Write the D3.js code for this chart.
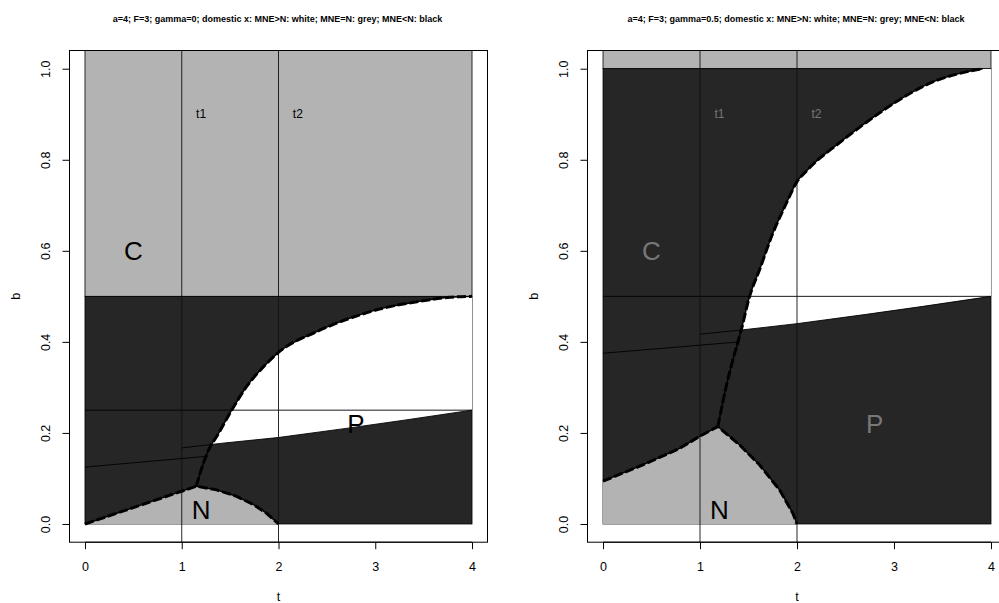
<!DOCTYPE html>
<html>
<head>
<meta charset="utf-8">
<script src="https://cdn.jsdelivr.net/npm/d3@7"></script>
<style>
  body { margin: 0; background: #fff; }
  svg text { font-family: "Liberation Sans", Arial, Helvetica, sans-serif; }
</style>
</head>
<body>
<svg id="chart" width="999" height="603"></svg>
<script>
// ---- data ----
var ticksX = [0, 1, 2, 3, 4];
var ticksY = [0, 0.2, 0.4, 0.6, 0.8, 1.0];
var titles = [
    "a=4; F=3; gamma=0; domestic x: MNE>N: white; MNE=N: grey; MNE<N: black",
    "a=4; F=3; gamma=0.5; domestic x: MNE>N: white; MNE=N: grey; MNE<N: black"
];
var markT = [1, 2];                 // t1, t2
var markLabels = ["t1", "t2"];
var regionLabels = ["C", "N", "P"];
var regionPos = [[0.5, 0.6], [1.2, 0.03], [2.8, 0.22]];

// lower edge of the C region (grey on top)
var cEdge = [0.5, 1.0];
// horizontal reference line
var hLine = [0.25, 0.5];

// boundary of the N region (grey at the bottom)
var nEdgeL = [[0, 0], [0.5, 0.036], [1, 0.072], [1.15, 0.083], [1.36, 0.075], [1.55, 0.062],
              [1.74, 0.043], [1.88, 0.023], [2, 0]];
var nEdgeR = [[0, 0.094], [0.445, 0.133], [0.789, 0.166], [1.0, 0.193], [1.184, 0.214],
              [1.407, 0.174], [1.613, 0.130], [1.82, 0.075], [1.957, 0.0235], [2, 0]];

// MNE = N boundary going up to the right
var mneEdgeL = [[1.15, 0.083], [1.223, 0.133], [1.285, 0.166], [1.361, 0.192], [1.516, 0.25],
                [1.671, 0.302], [1.843, 0.345], [2.0, 0.377], [2.39, 0.422], [2.74, 0.452],
                [3.08, 0.474], [3.43, 0.488], [3.77, 0.498], [4, 0.5]];
var mneEdgeR = [[1.184, 0.214], [1.27, 0.302], [1.338, 0.36], [1.425, 0.426], [1.51, 0.499],
                [1.613, 0.558], [1.75, 0.638], [1.889, 0.704], [2.0, 0.752], [2.1, 0.776],
                [2.2, 0.797], [2.369, 0.826], [2.713, 0.882], [3.057, 0.932], [3.4, 0.971],
                [3.744, 0.993], [3.915, 1.0]];

// thin boundary lines
var upperLineL = [[1, 0.167], [1.4, 0.177], [2, 0.19], [2.7, 0.21], [3.3, 0.228], [4, 0.25]];
var upperLineR = [[1, 0.417], [1.425, 0.426], [2, 0.44], [2.7, 0.46], [3.3, 0.478], [4, 0.5]];
var lowerLineL = [[0, 0.125], [1.275, 0.149]];
var lowerLineR = [[0, 0.375], [1.407, 0.40]];

var panels = [
    { left: 69.5, right: 487.5, nEdge: nEdgeL, mne: mneEdgeL, up: upperLineL, low: lowerLineL },
    { left: 587.5, right: 1006.5, nEdge: nEdgeR, mne: mneEdgeR, up: upperLineR, low: lowerLineR }
];

var GREY = "#b3b3b3", DARK = "#262626";
var svg = d3.select("#chart");
var plotTop = 50.5, plotBottom = 542.2;

panels.forEach(function (p, i) {
    var x = d3.scaleLinear().domain([-0.16, 4.16]).range([p.left, p.right]);
    var y = d3.scaleLinear().domain([-0.04, 1.04]).range([plotBottom, plotTop]);
    var g = svg.append("g");
    var clipId = "plotclip" + i;
    var defs = svg.append("defs");
    defs.append("clipPath").attr("id", clipId)
        .append("rect").attr("x", p.left).attr("y", plotTop)
        .attr("width", p.right - p.left).attr("height", plotBottom - plotTop);

    var plot = g.append("g").attr("clip-path", "url(#" + clipId + ")");
    var line = d3.line().x(function (d) { return x(d[0]); }).y(function (d) { return y(d[1]); });
    var smooth = d3.line().curve(d3.curveMonotoneX)
        .x(function (d) { return x(d[0]); }).y(function (d) { return y(d[1]); });

    // C region
    plot.append("rect")
        .attr("x", x(0)).attr("y", y(1.04) - 2)
        .attr("width", x(4) - x(0)).attr("height", y(cEdge[i]) - y(1.04) + 2)
        .attr("fill", GREY).attr("stroke", "#000").attr("stroke-width", 0.8);
    // MNE<N region
    plot.append("rect")
        .attr("x", x(0)).attr("y", y(cEdge[i]))
        .attr("width", x(4) - x(0)).attr("height", y(0) - y(cEdge[i]))
        .attr("fill", DARK).attr("stroke", "#000").attr("stroke-width", 0.8);
    // N region
    plot.append("path")
        .attr("d", line(p.nEdge.concat([[0, 0]])) + "Z")
        .attr("fill", GREY);

    // white region: right of MNE edge and above the thin line
    var wClip = "whiteclip" + i;
    var above = p.up.concat([[4, cEdge[i]], [p.up[0][0], cEdge[i]]]);
    defs.append("clipPath").attr("id", wClip)
        .append("path").attr("d", line(above) + "Z");
    var rightOf = smooth(p.mne) + line([[4, cEdge[i]], [4, 0], [p.mne[0][0], 0]]).replace("M", "L") + "Z";
    plot.append("path")
        .attr("d", rightOf)
        .attr("clip-path", "url(#" + wClip + ")")
        .attr("fill", "#fff");

    // thin lines
    plot.append("line")
        .attr("x1", x(0)).attr("x2", x(4))
        .attr("y1", y(hLine[i])).attr("y2", y(hLine[i]))
        .attr("stroke", "#000").attr("stroke-width", 0.9);
    [p.up, p.low].forEach(function (l) {
        plot.append("path").attr("d", line(l)).attr("fill", "none")
            .attr("stroke", "#000").attr("stroke-width", 0.9);
    });
    markT.forEach(function (t) {
        plot.append("line")
            .attr("x1", x(t)).attr("x2", x(t))
            .attr("y1", plotTop).attr("y2", plotBottom)
            .attr("stroke", "#111").attr("stroke-width", 0.9);
    });

    // dashed boundaries
    [[p.nEdge, line], [p.mne, smooth]].forEach(function (b) {
        plot.append("path").attr("d", b[1](b[0])).attr("fill", "none")
            .attr("stroke", "#000").attr("stroke-width", 1.4);
        plot.append("path").attr("d", b[1](b[0])).attr("fill", "none")
            .attr("stroke", "#000").attr("stroke-width", 3)
            .attr("stroke-dasharray", "9,3");
    });

    // labels
    markT.forEach(function (t, k) {
        plot.append("text")
            .attr("x", x(t + 0.2)).attr("y", y(0.9))
            .attr("text-anchor", "middle").attr("dominant-baseline", "central")
            .attr("font-size", 12).attr("fill", i === 0 ? "#000" : "#777")
            .text(markLabels[k]);
    });
    regionLabels.forEach(function (s, k) {
        plot.append("text")
            .attr("x", x(regionPos[k][0])).attr("y", y(regionPos[k][1]))
            .attr("text-anchor", "middle").attr("dominant-baseline", "central")
            .attr("font-size", 26)
            .attr("fill", (i === 1 && s !== "N") ? "#777" : "#000")
            .text(s);
    });

    // box
    g.append("rect")
        .attr("x", p.left).attr("y", plotTop)
        .attr("width", p.right - p.left).attr("height", plotBottom - plotTop)
        .attr("fill", "none").attr("stroke", "#000").attr("stroke-width", 1);

    // axes
    var xa = g.append("g").attr("transform", "translate(0," + plotBottom + ")")
        .call(d3.axisBottom(x).tickValues(ticksX).tickFormat(d3.format("d"))
            .tickSize(7).tickPadding(12));
    var ya = g.append("g").attr("transform", "translate(" + p.left + ",0)")
        .call(d3.axisLeft(y).tickValues(ticksY).tickFormat(d3.format(".1f")).tickSize(7));
    [xa, ya].forEach(function (a) {
        a.select(".domain").remove();
        a.selectAll("line").attr("stroke", "#000");
        a.selectAll("text").attr("font-size", 12.5).attr("fill", "#000")
            .attr("font-family", "Liberation Sans, Arial, sans-serif");
    });
    xa.selectAll(".tick text").attr("dy", null).attr("y", 25)
        .attr("dominant-baseline", "central");
    xa.append("line").attr("x1", x(0)).attr("x2", x(4)).attr("stroke", "#000");
    ya.append("line").attr("y1", y(0)).attr("y2", y(1)).attr("stroke", "#000");
    ya.selectAll(".tick text")
        .attr("x", null).attr("dy", null)
        .attr("text-anchor", "middle").attr("dominant-baseline", "central")
        .attr("transform", "translate(-24,0) rotate(-90)");

    g.append("text")
        .attr("x", (p.left + p.right) / 2).attr("y", 597)
        .attr("text-anchor", "middle").attr("dominant-baseline", "central")
        .attr("font-size", 12.5).text("t");
    g.append("text")
        .attr("transform", "translate(" + (p.left - 54) + "," + y(0.5) + ") rotate(-90)")
        .attr("text-anchor", "middle").attr("dominant-baseline", "central")
        .attr("font-size", 12.5).text("b");
    g.append("text")
        .attr("x", (p.left + p.right) / 2 - 1).attr("y", 19)
        .attr("text-anchor", "middle").attr("dominant-baseline", "central")
        .attr("font-size", 9).attr("font-weight", "bold")
        .text(titles[i]);
});
</script>
</body>
</html>
